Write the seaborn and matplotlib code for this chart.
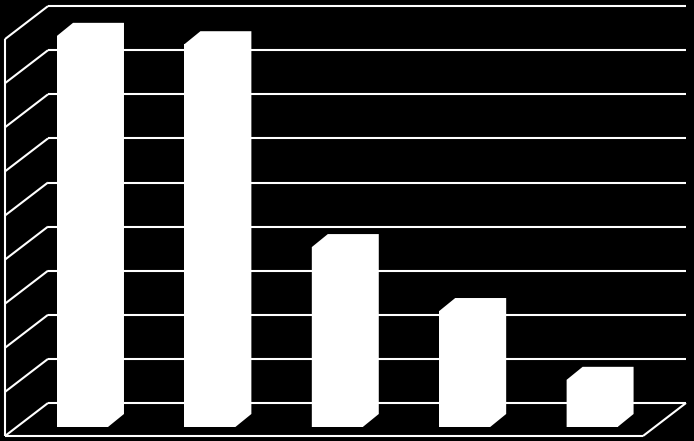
import matplotlib
matplotlib.use("Agg")
import matplotlib.pyplot as plt
import seaborn as sns
import pandas as pd
from matplotlib.patches import Polygon

# ---- data (gridline units) ----
categories = ["A", "B", "C", "D", "E"]
values = [8.87, 8.68, 4.08, 2.63, 1.07]
grid_levels = list(range(0, 10))

# ---- layout / style constants (pixels) ----
W, H, DPI = 694, 441, 100
BAR_PITCH_PX = 127.4      # x pixels per category
UNIT_PX = 44.1            # y pixels per value unit
X0_PX = 82.5              # pixel centre of first bar
Y0_PX = 427.0             # pixel row of bar base (front face)
BAR_DEPTH_PX = (16.0, 13.0)
FLOOR_FRONT_PX = (-11.7, -9.0)   # front edge of floor relative to bar plane
WALL_BACK_PX = (31.3, 24.0)      # back wall relative to bar plane
LEFT_FRONT_X_PX = 5.0
RIGHT_BACK_X_PX = 686.0
LW = 1.5

def dx(px):
    return px / BAR_PITCH_PX

def dy(py):
    return py / UNIT_PX

sns.set_theme(style="white")
df = pd.DataFrame({"cat": categories, "val": values})

fig = plt.figure(figsize=(W / DPI, H / DPI), dpi=DPI, facecolor="black")
ax = fig.add_axes([0, 0, 1, 1])
ax.set_facecolor("black")

sns.barplot(data=df, x="cat", y="val", color="white", saturation=1,
            width=0.4, edgecolor="none", linewidth=0, ax=ax, zorder=3)

ax.set_xlim(-X0_PX / BAR_PITCH_PX, (W - X0_PX) / BAR_PITCH_PX)
ax.set_ylim((Y0_PX - H) / UNIT_PX, Y0_PX / UNIT_PX)
ax.axis("off")

# ---- walls and floor ----
xl_front = dx(LEFT_FRONT_X_PX - X0_PX)
xl_back = xl_front + dx(WALL_BACK_PX[0] - FLOOR_FRONT_PX[0])
xr_back = dx(RIGHT_BACK_X_PX - X0_PX)
xr_front = xr_back - dx(WALL_BACK_PX[0] - FLOOR_FRONT_PX[0])
y_front = dy(FLOOR_FRONT_PX[1])
y_back = dy(WALL_BACK_PX[1])

line_kw = dict(color="white", lw=LW, solid_capstyle="butt", zorder=1)
for v in grid_levels:
    # back wall gridline
    ax.plot([xl_back, xr_back], [y_back + v, y_back + v], **line_kw)
    # left wall diagonal
    ax.plot([xl_front, xl_back], [y_front + v, y_back + v], **line_kw)
# left wall front vertical edge
ax.plot([xl_front, xl_front], [y_front, y_front + grid_levels[-1]], **line_kw)
# floor front edge and right edge
ax.plot([xl_front, xr_front], [y_front, y_front], **line_kw)
ax.plot([xr_front, xr_back], [y_front, y_back], **line_kw)

# ---- 3D extrusion of bars, built from the seaborn patches ----
ddx, ddy = dx(BAR_DEPTH_PX[0]), dy(BAR_DEPTH_PX[1])
for p in list(ax.patches):
    x0 = p.get_x()
    x1 = x0 + p.get_width()
    h = p.get_height()
    poly = Polygon([(x0, 0), (x1, 0), (x1 + ddx, ddy), (x1 + ddx, h + ddy),
                    (x0 + ddx, h + ddy), (x0, h)], closed=True,
                   facecolor="white", edgecolor="none", zorder=3)
    ax.add_patch(poly)

fig.savefig("out.png", dpi=DPI, facecolor="black")
